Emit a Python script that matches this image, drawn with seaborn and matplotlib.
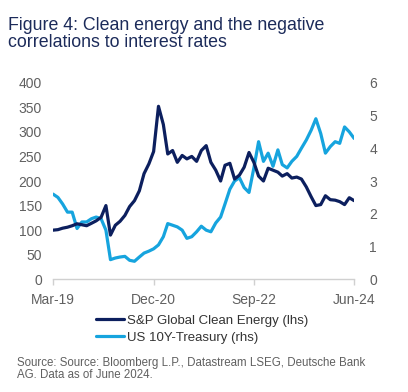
import matplotlib
matplotlib.use("Agg")
import matplotlib.pyplot as plt
import seaborn as sns
import pandas as pd

# monthly readings, Mar-2019 .. Jun-2024
months = pd.date_range("2019-03-01", "2024-06-01", freq="MS")

clean_energy = [100, 101, 104, 106, 109, 113, 111, 109, 114, 119,
                126, 150, 90, 110, 118, 130, 148, 160, 180, 215,
                235, 260, 352, 315, 255, 262, 238, 252, 245, 250,
                240, 262, 272, 238, 222, 200, 232, 236, 204, 212,
                228, 258, 238, 210, 200, 226, 222, 218, 210, 215,
                206, 208, 204, 188, 168, 150, 152, 170, 162, 161,
                158, 152, 166, 160]

treasury_10y = [2.6, 2.5, 2.3, 2.05, 2.05, 1.55, 1.75, 1.75, 1.85, 1.9,
                1.85, 1.5, 0.6, 0.65, 0.68, 0.7, 0.58, 0.55, 0.68, 0.8,
                0.86, 0.93, 1.05, 1.3, 1.7, 1.65, 1.6, 1.5, 1.25, 1.3,
                1.45, 1.62, 1.5, 1.45, 1.72, 1.9, 2.3, 2.75, 3.0, 3.1,
                2.8, 2.65, 3.4, 4.2, 3.6, 3.85, 3.45, 3.95, 3.5, 3.4,
                3.6, 3.75, 4.0, 4.25, 4.55, 4.9, 4.45, 3.85, 4.05, 4.2,
                4.15, 4.65, 4.5, 4.3]

labels = ["S&P Global Clean Energy (lhs)", "US 10Y-Treasury (rhs)"]
tick_dates = ["2019-03-01", "2020-12-01", "2022-09-01", "2024-06-01"]
tick_labels = ["Mar-19", "Dec-20", "Sep-22", "Jun-24"]

navy = "#0c1f5e"
sky = "#16a4de"
grey = "#606060"

sns.set_theme(style="white")
plt.rcParams["font.family"] = ["Liberation Sans", "DejaVu Sans"]

df = pd.DataFrame({"date": months, "ce": clean_energy, "ty": treasury_10y})

fig = plt.figure(figsize=(4.08, 3.92), dpi=100)
ax = fig.add_axes([0.130, 0.2875, 0.738, 0.5015])
ax2 = ax.twinx()

sns.lineplot(data=df, x="date", y="ce", ax=ax, color=navy, lw=2.3, label=labels[0], legend=False)
sns.lineplot(data=df, x="date", y="ty", ax=ax2, color=sky, lw=2.3, label=labels[1], legend=False)
ax.set_zorder(ax2.get_zorder() + 1)
ax.patch.set_visible(False)

ax.set_ylim(0, 400)
ax.set_yticks(range(0, 401, 50))
ax2.set_ylim(0, 6)
ax2.set_yticks(range(0, 7))
ticks = pd.to_datetime(tick_dates)
ax.set_xlim(ticks[0], ticks[-1])
ax.set_xticks(ticks)
ax.set_xticklabels(tick_labels)
ax.set_xlabel("")
ax.set_ylabel("")
ax2.set_ylabel("")

for a in (ax, ax2):
    for s in a.spines.values():
        s.set_visible(False)
ax.spines["bottom"].set_visible(True)
ax.spines["bottom"].set_color("#d0d0d0")
ax.spines["bottom"].set_linewidth(1)

ax.tick_params(axis="x", bottom=True, length=4, width=1, color="#d0d0d0",
               labelsize=10, labelcolor=grey, pad=6)
ax.tick_params(axis="y", left=False, length=0, labelsize=10, labelcolor=grey, pad=8)
ax2.tick_params(axis="y", right=False, length=0, labelsize=10, labelcolor=grey, pad=11)

fig.text(0.02, 1 - 17 / 392, "Figure 4: Clean energy and the negative\ncorrelations to interest rates",
         ha="left", va="top", fontsize=12.8, color="#1c2b5a", linespacing=1.0)

h1, _ = ax.get_legend_handles_labels()
h2, _ = ax2.get_legend_handles_labels()
fig.legend(h1 + h2, labels, loc="center", bbox_to_anchor=(0.495, 1 - 329 / 392),
           frameon=False, fontsize=9.5, handlelength=2.1, handletextpad=0.2,
           labelspacing=0.35, labelcolor="#333333")

fig.text(0.042, 1 - 357 / 392,
         "Source: Source: Bloomberg L.P., Datastream LSEG, Deutsche Bank\nAG. Data as of June 2024.",
         ha="left", va="top", fontsize=8.3, color=grey, linespacing=0.95)

fig.savefig("out.png", dpi=100)
